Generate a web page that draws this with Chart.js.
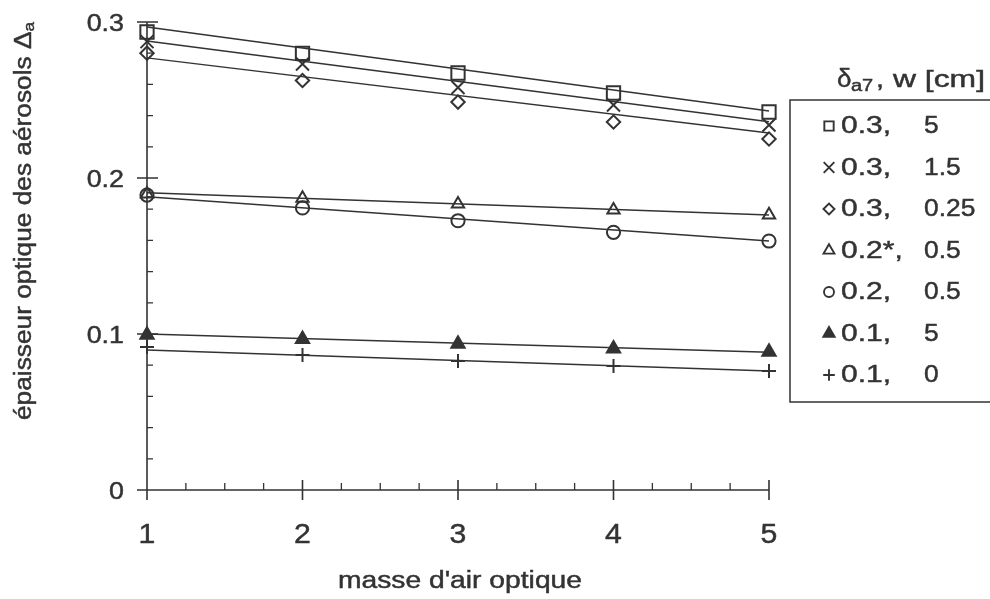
<!DOCTYPE html>
<html><head><meta charset="utf-8">
<script src="https://cdn.jsdelivr.net/npm/chart.js@4/dist/chart.umd.min.js"></script>
<style>html,body{margin:0;padding:0;background:#fff}#wrap{width:990px;height:599px;position:relative}</style>
</head><body><div id="wrap"><canvas id="c"></canvas></div>
<script>
// ---- data ----
const airMass = [1, 2, 3, 4, 5];
const fitX = [1, 5];
const sq_03_5    = [0.2936, 0.2799, 0.2673, 0.2545, 0.2423];
const x_03_15    = [0.2874, 0.2731, 0.2580, 0.2468, 0.2340];
const di_03_025  = [0.2800, 0.2625, 0.2487, 0.2359, 0.2250];
const tr_02s_05  = [0.1897, 0.1870, 0.1833, 0.1795, 0.1763];
const ci_02_05   = [0.1890, 0.1808, 0.1726, 0.1652, 0.1596];
const ft_01_5    = [0.0994, 0.0967, 0.0937, 0.0906, 0.0885];
const pl_01_0    = [0.0917, 0.0865, 0.0827, 0.0795, 0.0763];
const fit_sq = [0.2968, 0.2429];
const fit_x  = [0.2878, 0.2361];
const fit_di = [0.2770, 0.2288];
const fit_tr = [0.1906, 0.1763];
const fit_ci = [0.1880, 0.1596];
const fit_ft = [0.1000, 0.0883];
const fit_pl = [0.0897, 0.0763];
const legendDelta = ['0.3,', '0.3,', '0.3,', '0.2*,', '0.2,', '0.1,', '0.1,'];
const legendW = ['5', '1.5', '0.25', '0.5', '0.5', '5', '0'];
const yTickValues = [0, 0.1, 0.2, 0.3];
const yTickLabels = ['0', '0.1', '0.2', '0.3'];
const xTickValues = [1, 2, 3, 4, 5];
const xTickLabels = ['1', '2', '3', '4', '5'];

const INK = '#333333';
const FONT = '"Liberation Sans", Arial, sans-serif';

const seriesDefs = [
  {vals: sq_03_5,   fit: fit_sq, style: 'rect',     r: 9.4, lr: 6.6, fill: false},
  {vals: x_03_15,   fit: fit_x,  style: 'crossRot', r: 9.2, lr: 7.5, fill: false},
  {vals: di_03_025, fit: fit_di, style: 'rectRot',  r: 6.7, lr: 5.5, fill: false},
  {vals: tr_02s_05, fit: fit_tr, style: 'triangle', r: 7.1, lr: 6.3, fill: false},
  {vals: ci_02_05,  fit: fit_ci, style: 'circle',   r: 6.6, lr: 5.0, fill: false},
  {vals: ft_01_5,   fit: fit_ft, style: 'triangle', r: 7.7, lr: 6.5, fill: true},
  {vals: pl_01_0,   fit: fit_pl, style: 'cross',    r: 7.0, lr: 5.8, fill: false}
];

const datasets = [];
seriesDefs.forEach((s, i) => {
  datasets.push({
    label: 'fit' + i,
    data: fitX.map((x, k) => ({x: x, y: s.fit[k]})),
    showLine: true, pointRadius: 0, borderColor: INK, borderWidth: 1.5,
    fill: false, clip: false
  });
  datasets.push({
    label: legendDelta[i] + ' ' + legendW[i],
    data: airMass.map((x, k) => ({x: x, y: s.vals[k]})),
    showLine: false, pointStyle: s.style, pointRadius: s.r, pointHoverRadius: s.r,
    pointBorderWidth: 2, pointBorderColor: INK,
    pointBackgroundColor: s.fill ? INK : 'rgba(0,0,0,0)', clip: false
  });
});

function paint(ctx, s, x, y) {
  ctx.fillText(s, x, y);
  ctx.lineWidth = 0.45; ctx.strokeStyle = INK; ctx.strokeText(s, x, y);
}
function stretchText(ctx, s, x, y, size, sx, align, baseline) {
  ctx.save();
  ctx.font = size + 'px ' + FONT;
  ctx.textAlign = align; ctx.textBaseline = baseline || 'alphabetic';
  ctx.translate(x, y); ctx.scale(sx, 1);
  paint(ctx, s, 0, 0);
  ctx.restore();
}
function fitText(ctx, s, x, y, size, targetW, align, baseline) {
  ctx.save(); ctx.font = size + 'px ' + FONT;
  const w = ctx.measureText(s).width; ctx.restore();
  stretchText(ctx, s, x, y, size, targetW / w, align, baseline);
}

const axesPlugin = {
  id: 'axesPlugin',
  beforeDatasetsDraw(chart) {
    const ctx = chart.ctx, xs = chart.scales.x, ys = chart.scales.y;
    const x0 = xs.getPixelForValue(1), x1 = xs.getPixelForValue(5);
    const y0 = ys.getPixelForValue(0), y1 = ys.getPixelForValue(0.3);
    ctx.save();
    ctx.strokeStyle = INK; ctx.lineWidth = 1.6; ctx.lineCap = 'butt';
    ctx.beginPath();
    ctx.moveTo(x0, y1); ctx.lineTo(x0, y0 + 10);
    ctx.moveTo(x0 - 10, y0); ctx.lineTo(x1, y0);
    yTickValues.forEach(v => { const p = ys.getPixelForValue(v); ctx.moveTo(x0 - 10, p); ctx.lineTo(x0 + (v > 0 ? 11 : 0), p); });
    xTickValues.forEach(v => { const p = xs.getPixelForValue(v); ctx.moveTo(p, y0 - 10); ctx.lineTo(p, y0 + 10); });
    ctx.stroke();
    ctx.lineWidth = 1.3;
    ctx.beginPath();
    for (let v = 0.02; v < 0.3; v += 0.02) {
      if (Math.abs(v * 10 - Math.round(v * 10)) < 1e-6) continue;
      const p = ys.getPixelForValue(v); ctx.moveTo(x0, p); ctx.lineTo(x0 + 6, p);
    }
    for (let v = 1.25; v < 5; v += 0.25) {
      if (Math.abs(v - Math.round(v)) < 1e-6) continue;
      const p = xs.getPixelForValue(v); ctx.moveTo(p, y0); ctx.lineTo(p, y0 - 7);
    }
    ctx.stroke();
    ctx.restore();
  },
  afterDraw(chart) {
    const ctx = chart.ctx, xs = chart.scales.x, ys = chart.scales.y;
    ctx.save();
    ctx.fillStyle = INK;
    yTickValues.forEach((v, i) => stretchText(ctx, yTickLabels[i], 124, ys.getPixelForValue(v) + 8.5, 24, 1.12, 'right'));
    xTickValues.forEach((v, i) => stretchText(ctx, xTickLabels[i], xs.getPixelForValue(v), 543, 27, 1.12, 'center'));
    fitText(ctx, "masse d'air optique", 460, 588, 23, 244, 'center');
    // y title (rotated) with subscript
    ctx.save();
    ctx.translate(31, 221); ctx.rotate(-Math.PI / 2);
    const main = 'épaisseur optique des aérosols Δ', sub = 'a';
    ctx.font = '23px ' + FONT; const wm = ctx.measureText(main).width;
    ctx.font = '15px ' + FONT; const wsub = ctx.measureText(sub).width;
    const sx = 398 / (wm + wsub);
    ctx.scale(sx, 1);
    const start = -(wm + wsub) / 2;
    ctx.textAlign = 'left'; ctx.textBaseline = 'alphabetic';
    ctx.font = '23px ' + FONT; paint(ctx, main, start, 0);
    ctx.font = '15px ' + FONT; paint(ctx, sub, start + wm, 3);
    ctx.restore();
    // legend title
    stretchText(ctx, 'δ', 837, 87, 26, 1.0, 'left');
    stretchText(ctx, 'a7', 851, 91, 16, 1.25, 'left');
    stretchText(ctx, ',', 876, 87, 24, 1.2, 'left');
    fitText(ctx, 'w [cm]', 893, 87, 24, 92, 'left');
    // legend box
    ctx.strokeStyle = INK; ctx.lineWidth = 1.5;
    ctx.beginPath();
    ctx.moveTo(995, 100); ctx.lineTo(790, 100); ctx.lineTo(790, 402); ctx.lineTo(995, 402);
    ctx.stroke();
    seriesDefs.forEach((s, i) => {
      const y = 126 + i * 41.5;
      ctx.save();
      ctx.strokeStyle = INK; ctx.lineWidth = 1.9;
      ctx.fillStyle = s.fill ? INK : 'rgba(0,0,0,0)';
      Chart.helpers.drawPoint(ctx, {pointStyle: s.style, radius: s.lr, borderWidth: 1.9, rotation: 0}, 829, y);
      ctx.restore();
      ctx.fillStyle = INK;
      stretchText(ctx, legendDelta[i], 841, y + 7, 24, 1.25, 'left');
      stretchText(ctx, legendW[i], 924, y + 7, 24, 1.1, 'left');
    });
    ctx.restore();
  }
};

new Chart(document.getElementById('c'), {
  type: 'scatter',
  data: {datasets: datasets},
  options: {
    responsive: true, maintainAspectRatio: false, animation: false,
    layout: {padding: {left: 0, right: 221, top: 22, bottom: 0}},
    plugins: {legend: {display: false}, tooltip: {enabled: false}},
    events: [],
    scales: {
      x: {type: 'linear', min: 1, max: 5, grid: {display: false}, border: {display: false},
          ticks: {display: false, stepSize: 1}, afterFit: s => { s.height = 109; }},
      y: {type: 'linear', min: 0, max: 0.3, grid: {display: false}, border: {display: false},
          ticks: {display: false, stepSize: 0.1}, afterFit: s => { s.width = 147; }}
    }
  },
  plugins: [axesPlugin]
});
</script>
</body></html>
